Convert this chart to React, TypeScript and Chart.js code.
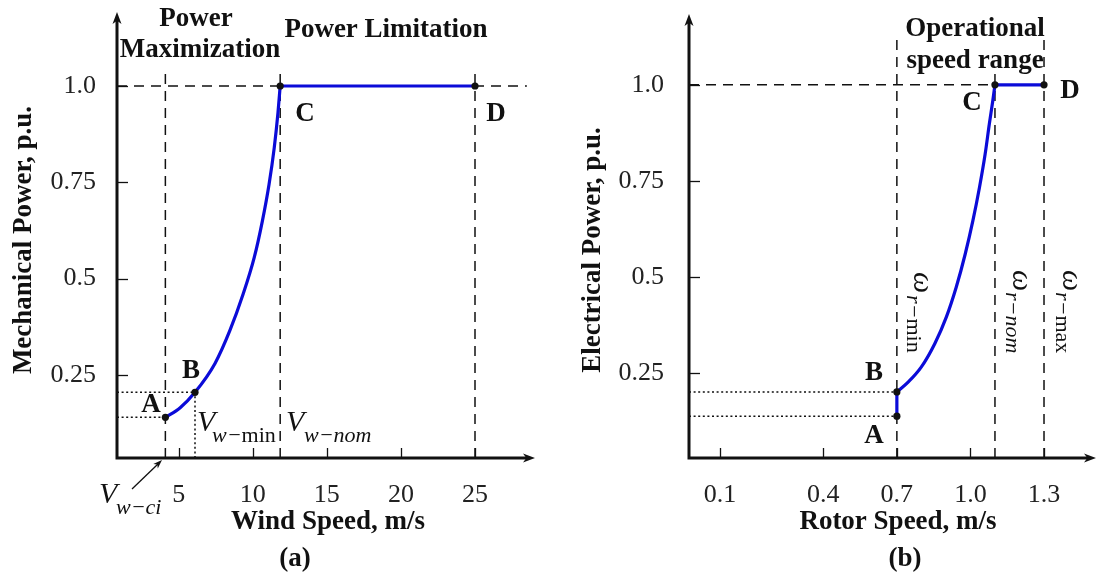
import React, { useEffect, useRef } from "react";
import { Chart, registerables } from "chart.js";

Chart.register(...registerables);

// ---------------- Panel (a): mechanical power vs wind speed ----------------
const windTickValues = [5, 10, 15, 20, 25];
const windTickLabels = ["5", "10", "15", "20", "25"];
const powerTickValues = [0.25, 0.5, 0.75, 1.0];
const powerTickLabels = ["0.25", "0.5", "0.75", "1.0"];
const windRange = [0.835, 29.05];
const powerRangeA = [0.0345, 1.192];

// curve A -> B -> C (power maximization)
const windCurveX = [4.1, 5.1, 6.1, 7.45, 8.45, 9.35, 10.1, 10.65, 11.1, 11.45, 11.7, 11.85];
const windCurveY = [0.14, 0.165, 0.205, 0.28, 0.365, 0.46, 0.555, 0.65, 0.745, 0.84, 0.93, 1.0];
// C -> D (power limitation)
const windLimitX = [11.85, 25];
const windLimitY = [1.0, 1.0];
// marked points A, B, C, D
const windPointX = [4.1, 6.1, 11.85, 25];
const windPointY = [0.14, 0.205, 1.0, 1.0];
// guide lines
const windDashedX = [4.1, 11.85, 25];
const windGuideTop = 1.044;
const windRatedEnd = 28.5;

// ---------------- Panel (b): electrical power vs rotor speed ----------------
// tick positions follow the (non-uniform) drawn axis; labels are the printed values
const rotorTickPositions = [-0.021, 0.4, 0.7, 1.0, 1.3];
const rotorTickLabels = ["0.1", "0.4", "0.7", "1.0", "1.3"];
const rotorRange = [-0.1476, 1.512];
const powerRangeB = [0.0303, 1.184];

const rotorStepX = [0.7, 0.7];
const rotorStepY = [0.139, 0.202];
const rotorCurveX = [0.7, 0.747, 0.8, 0.855, 0.902, 0.942, 0.979, 1.01, 1.037, 1.06, 1.077, 1.091, 1.1];
const rotorCurveY = [0.202, 0.228, 0.267, 0.328, 0.397, 0.474, 0.561, 0.647, 0.734, 0.82, 0.898, 0.958, 1.0];
const rotorLimitX = [1.1, 1.3];
const rotorLimitY = [1.0, 1.0];
const rotorPointX = [0.7, 0.7, 1.1, 1.3];
const rotorPointY = [0.139, 0.202, 1.0, 1.0];
const rotorMin = 0.7;
const rotorNom = 1.1;
const rotorMax = 1.3;
const rotorOuterTop = 1.128;
const rotorNomTop = 1.034;

// ---------------- styling ----------------
const W = 550;
const H = 583;
const BLUE = "#0b0bd8";
const INK = "#111111";
const DASH = [10, 7];
const DOT = [2, 2.6];
const SERIF = "'Liberation Serif', 'DejaVu Serif', serif";
const BOLD = `bold 27px ${SERIF}`;
const ITAL = `italic 30px ${SERIF}`;
const SUB_I = `italic 22px ${SERIF}`;
const SUB_R = `22px ${SERIF}`;

const pts = (xs: number[], ys: number[]) => xs.map((x, i) => ({ x, y: ys[i] }));

function lineDs(data: any[], color: string, width: number, dash: number[], order: number, mono = false) {
  return {
    data,
    showLine: true,
    borderColor: color,
    borderWidth: width,
    borderDash: dash,
    pointRadius: 0,
    fill: false,
    order,
    tension: 0,
    cubicInterpolationMode: mono ? "monotone" : "default",
  };
}

function pointDs(data: any[]) {
  return {
    data,
    showLine: false,
    pointRadius: 3.6,
    pointBackgroundColor: INK,
    pointBorderColor: INK,
    pointBorderWidth: 0,
    order: 0,
  };
}

function txt(ctx: CanvasRenderingContext2D, s: string, x: number, y: number, font: string, align: CanvasTextAlign = "center", rot = 0, base: CanvasTextBaseline = "alphabetic") {
  ctx.save();
  ctx.translate(x, y);
  ctx.rotate(rot);
  ctx.font = font;
  ctx.textAlign = align;
  ctx.textBaseline = base;
  ctx.fillStyle = INK;
  ctx.fillText(s, 0, 0);
  ctx.restore();
}

function runs(ctx: CanvasRenderingContext2D, parts: [string, string][], x: number, y: number, rot = 0) {
  ctx.save();
  ctx.translate(x, y);
  ctx.rotate(rot);
  ctx.textAlign = "left";
  ctx.textBaseline = "alphabetic";
  ctx.fillStyle = INK;
  let cx = 0;
  for (const [s, f] of parts) {
    ctx.font = f;
    ctx.fillText(s, cx, 0);
    cx += ctx.measureText(s).width;
  }
  ctx.restore();
}

function arrowHead(ctx: CanvasRenderingContext2D, tx: number, ty: number, ang: number, len = 12, half = 4.5) {
  ctx.save();
  ctx.translate(tx, ty);
  ctx.rotate(ang);
  ctx.beginPath();
  ctx.moveTo(0, 0);
  ctx.lineTo(-len, -half);
  ctx.lineTo(-len * 0.72, 0);
  ctx.lineTo(-len, half);
  ctx.closePath();
  ctx.fillStyle = INK;
  ctx.fill();
  ctx.restore();
}

function drawFrame(chart: any, xTicks: number[], yTicks: number[]) {
  const ctx: CanvasRenderingContext2D = chart.ctx;
  const { left, right, top, bottom } = chart.chartArea;
  const xs = chart.scales.x;
  const ys = chart.scales.y;
  ctx.save();
  // inward tick marks
  ctx.strokeStyle = INK;
  ctx.lineWidth = 1.3;
  ctx.setLineDash([]);
  for (const v of xTicks) {
    const px = Math.round(xs.getPixelForValue(v)) + 0.5;
    ctx.beginPath();
    ctx.moveTo(px, bottom);
    ctx.lineTo(px, bottom - 10);
    ctx.stroke();
  }
  for (const v of yTicks) {
    const py = Math.round(ys.getPixelForValue(v)) + 0.5;
    ctx.beginPath();
    ctx.moveTo(left, py);
    ctx.lineTo(left + 11, py);
    ctx.stroke();
  }
  // axes
  ctx.lineWidth = 3;
  ctx.lineJoin = "miter";
  ctx.beginPath();
  ctx.moveTo(left, top + 8);
  ctx.lineTo(left, bottom);
  ctx.lineTo(right - 8, bottom);
  ctx.stroke();
  arrowHead(ctx, left, top, -Math.PI / 2);
  arrowHead(ctx, right, bottom, 0);
  ctx.restore();
}

function decorA(chart: any) {
  const ctx: CanvasRenderingContext2D = chart.ctx;
  drawFrame(chart, windTickValues, powerTickValues);
  txt(ctx, "Power", 196, 25.5, BOLD);
  txt(ctx, "Maximization", 200, 57, BOLD);
  txt(ctx, "Power Limitation", 386, 37, BOLD);
  txt(ctx, "C", 305, 121, BOLD);
  txt(ctx, "D", 496, 121, BOLD);
  txt(ctx, "A", 151, 412, BOLD);
  txt(ctx, "B", 191, 377.5, BOLD);
  // V_{w-min}, V_{w-nom}, V_{w-ci}
  txt(ctx, "V", 197, 431, ITAL, "left");
  runs(ctx, [["w−", SUB_I], ["min", SUB_R]], 212, 442);
  txt(ctx, "V", 286, 431, ITAL, "left");
  runs(ctx, [["w−nom", SUB_I]], 304, 442);
  txt(ctx, "V", 99, 503, ITAL, "left");
  runs(ctx, [["w−ci", SUB_I]], 116, 514);
  // pointer arrow to the cut-in speed
  ctx.save();
  ctx.strokeStyle = INK;
  ctx.lineWidth = 1.3;
  ctx.beginPath();
  ctx.moveTo(132, 489);
  ctx.lineTo(158, 464);
  ctx.stroke();
  arrowHead(ctx, 162, 460, Math.atan2(460 - 489, 162 - 132), 9, 3.2);
  ctx.restore();
  // axis titles
  txt(ctx, "Wind Speed, m/s", 328, 529, BOLD);
  txt(ctx, "(a)", 295, 566, BOLD);
  txt(ctx, "Mechanical Power, p.u.", 24, 240, BOLD, "center", -Math.PI / 2, "middle");
}

function decorB(chart: any) {
  const ctx: CanvasRenderingContext2D = chart.ctx;
  drawFrame(chart, rotorTickPositions, powerTickValues);
  txt(ctx, "Operational", 425, 35.5, BOLD);
  txt(ctx, "speed range", 425, 67.5, BOLD);
  txt(ctx, "C", 422, 110, BOLD);
  txt(ctx, "D", 520, 98, BOLD);
  txt(ctx, "B", 324, 380, BOLD);
  txt(ctx, "A", 324, 443, BOLD);
  const rot = Math.PI / 2;
  // omega labels, rotated
  txt(ctx, "ω", 364, 272, ITAL, "left", rot);
  runs(ctx, [["r−", SUB_I], ["min", SUB_R]], 357, 295, rot);
  txt(ctx, "ω", 463, 270, ITAL, "left", rot);
  runs(ctx, [["r−nom", SUB_I]], 456, 292, rot);
  txt(ctx, "ω", 513, 270, ITAL, "left", rot);
  runs(ctx, [["r−", SUB_I], ["max", SUB_R]], 506, 292, rot);
  txt(ctx, "Rotor Speed, m/s", 348, 529, BOLD);
  txt(ctx, "(b)", 355, 566, BOLD);
  txt(ctx, "Electrical Power, p.u.", 43, 250, BOLD, "center", -Math.PI / 2, "middle");
}

function zeroPad(s: any) {
  s.paddingTop = 0;
  s.paddingBottom = 0;
  s.paddingLeft = 0;
  s.paddingRight = 0;
}

function makeChart(
  canvas: HTMLCanvasElement,
  datasets: any[],
  xr: number[],
  yr: number[],
  xTicks: number[],
  xLabels: string[],
  axisX: number,
  axisY: number,
  padTop: number,
  padRight: number,
  yLabelGap: number,
  decor: (c: any) => void
) {
  const tickFont = { family: SERIF, size: 26 };
  return new Chart(canvas, {
    type: "scatter",
    data: { datasets },
    plugins: [{ id: "decor", afterDraw: decor }],
    options: {
      responsive: false,
      animation: false,
      events: [],
      layout: { padding: { left: 0, top: padTop, right: padRight, bottom: 0 } },
      plugins: { legend: { display: false }, tooltip: { enabled: false } },
      scales: {
        x: {
          type: "linear",
          min: xr[0],
          max: xr[1],
          grid: { display: false, drawTicks: false },
          border: { display: false },
          afterBuildTicks: (s: any) => {
            s.ticks = xTicks.map((v) => ({ value: v }));
          },
          afterFit: (s: any) => {
            s.height = H - axisY;
            zeroPad(s);
          },
          ticks: {
            autoSkip: false,
            maxRotation: 0,
            padding: 22,
            color: "#222",
            font: tickFont,
            callback: (_v: any, i: number) => xLabels[i],
          },
        },
        y: {
          type: "linear",
          min: yr[0],
          max: yr[1],
          grid: { display: false, drawTicks: false },
          border: { display: false },
          afterBuildTicks: (s: any) => {
            s.ticks = powerTickValues.map((v) => ({ value: v }));
          },
          afterFit: (s: any) => {
            s.width = axisX;
            zeroPad(s);
          },
          ticks: {
            autoSkip: false,
            padding: yLabelGap,
            color: "#222",
            font: tickFont,
            callback: (_v: any, i: number) => powerTickLabels[i],
          },
        },
      },
    } as any,
  });
}

export default function App() {
  const refA = useRef<HTMLCanvasElement>(null);
  const refB = useRef<HTMLCanvasElement>(null);

  useEffect(() => {
    const a = refA.current!;
    const b = refB.current!;

    const dsA = [
      pointDs(pts(windPointX, windPointY)),
      lineDs(pts(windCurveX, windCurveY), BLUE, 3.2, [], 1, true),
      lineDs(pts(windLimitX, windLimitY), BLUE, 3.2, [], 1),
      ...windDashedX.map((x) => lineDs(pts([x, x], [powerRangeA[0], windGuideTop]), INK, 1.5, DASH, 5)),
      lineDs(pts([windRange[0], windRatedEnd], [1, 1]), INK, 1.5, DASH, 5),
      lineDs(pts([windRange[0], windPointX[0]], [windPointY[0], windPointY[0]]), INK, 1.5, DOT, 5),
      lineDs(pts([windRange[0], windPointX[1]], [windPointY[1], windPointY[1]]), INK, 1.5, DOT, 5),
      lineDs(pts([windPointX[1], windPointX[1]], [powerRangeA[0], windPointY[1]]), INK, 1.5, DOT, 5),
    ];

    const dsB = [
      pointDs(pts(rotorPointX, rotorPointY)),
      lineDs(pts(rotorStepX, rotorStepY), BLUE, 3.2, [], 1),
      lineDs(pts(rotorCurveX, rotorCurveY), BLUE, 3.2, [], 1, true),
      lineDs(pts(rotorLimitX, rotorLimitY), BLUE, 3.2, [], 1),
      lineDs(pts([rotorMin, rotorMin], [powerRangeB[0], rotorOuterTop]), INK, 1.5, DASH, 5),
      lineDs(pts([rotorMax, rotorMax], [powerRangeB[0], rotorOuterTop]), INK, 1.5, DASH, 5),
      lineDs(pts([rotorNom, rotorNom], [powerRangeB[0], rotorNomTop]), INK, 1.5, DASH, 5),
      lineDs(pts([rotorRange[0], rotorNom], [1, 1]), INK, 1.5, DASH, 5),
      lineDs(pts([rotorRange[0], rotorMin], [rotorStepY[0], rotorStepY[0]]), INK, 1.5, DOT, 5),
      lineDs(pts([rotorRange[0], rotorMin], [rotorStepY[1], rotorStepY[1]]), INK, 1.5, DOT, 5),
    ];

    const cA = makeChart(a, dsA, windRange, powerRangeA, windTickValues, windTickLabels, 117, 458, 12, W - 535, 21, decorA);
    const cB = makeChart(b, dsB, rotorRange, powerRangeB, rotorTickPositions, rotorTickLabels, 139, 458, 14, 1, 25, decorB);
    return () => {
      cA.destroy();
      cB.destroy();
    };
  }, []);

  return (
    <div style={{ position: "fixed", left: 0, top: 0, width: 1100, height: H, background: "#fff" }}>
      <canvas ref={refA} width={W} height={H} style={{ position: "absolute", left: 0, top: 0 }} />
      <canvas ref={refB} width={W} height={H} style={{ position: "absolute", left: W, top: 0 }} />
    </div>
  );
}
